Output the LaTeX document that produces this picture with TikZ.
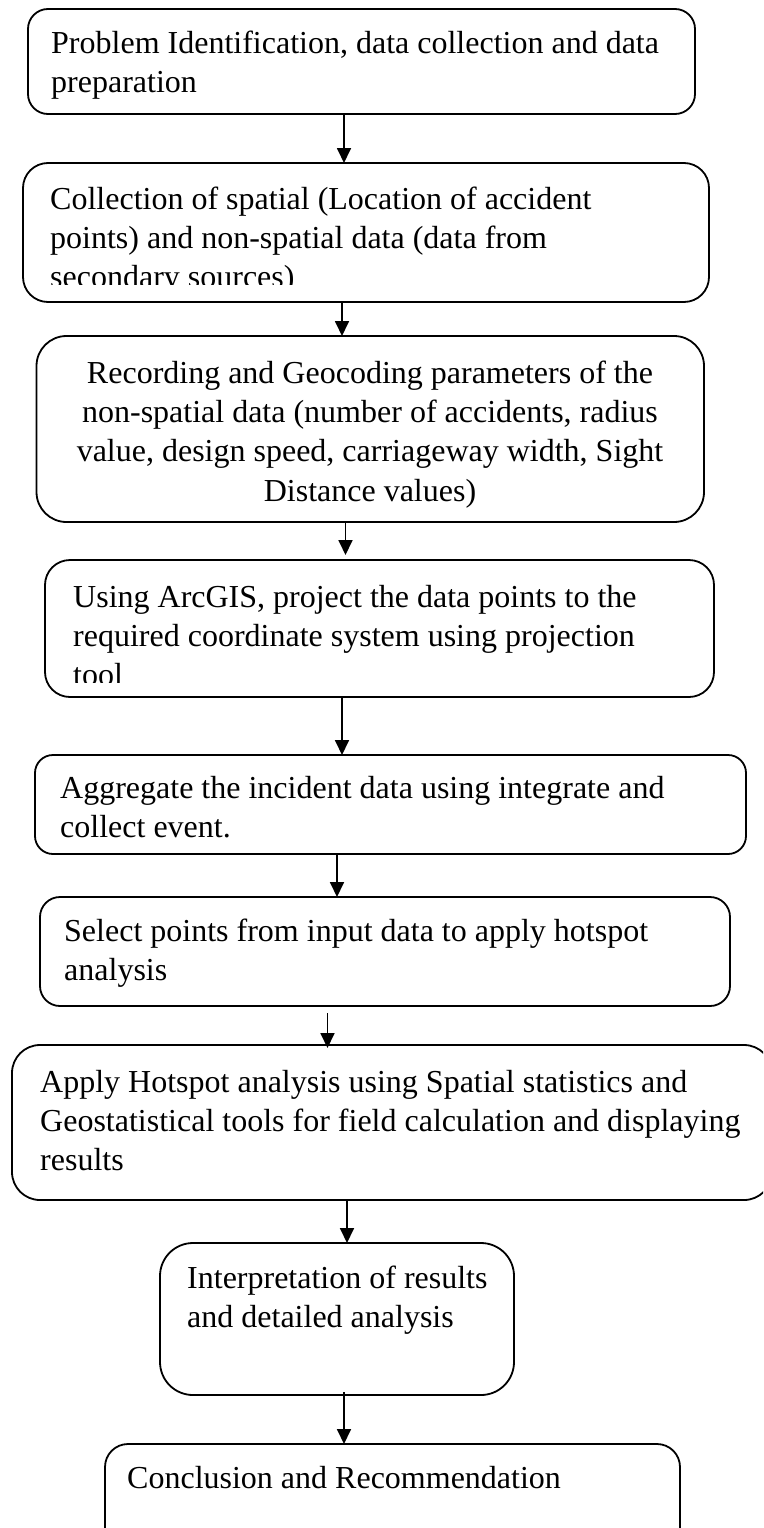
\documentclass[tikz,border=0pt]{standalone}
\usepackage{fontspec}
\setmainfont{Liberation Serif}
\usetikzlibrary{arrows.meta}
\tikzset{
  box/.style={draw, line width=1.8pt, rounded corners=#1, inner sep=0pt, outer sep=0pt},
  box/.default=20pt,
  txt/.style={inner sep=0pt, anchor=north west, align=left, font=\fontsize{32}{39.3}\selectfont},
  ctxt/.style={inner sep=0pt, anchor=north, align=center, font=\fontsize{32}{39.3}\selectfont},
  arr/.style={-{Triangle[length=15pt,width=14pt]}, line width=1.8pt},
}
\begin{document}
\begin{tikzpicture}[x=1pt,y=-1pt]
\useasboundingbox (0,0) rectangle (763,1528);
\clip (0,0) rectangle (763,1528);
% boxes
\node[box=20pt, minimum width=667pt, minimum height=105pt] (b1) at (361.5,61.5) {};
\node[box=25pt, minimum width=686pt, minimum height=139pt] (b2) at (366,232.5) {};
\node[box=30pt, minimum width=667.5pt, minimum height=186pt] (b3) at (370.25,429) {};
\node[box=25pt, minimum width=669pt, minimum height=137pt] (b4) at (379.5,628.5) {};
\node[box=18pt, minimum width=711pt, minimum height=99pt] (b5) at (390.5,804.5) {};
\node[box=20pt, minimum width=690pt, minimum height=109pt] (b6) at (385,951.5) {};
\node[box=28pt, minimum width=760pt, minimum height=155pt] (b7) at (392,1122.5) {};
\node[box=33pt, minimum width=354pt, minimum height=152pt] (b8) at (337,1319) {};
\node[box=23pt, minimum width=575pt, minimum height=116pt] (b9) at (392.5,1502) {};
% texts
\node[txt] (t1) at (51,25.5) {\strut Problem Identification, data collection and data\\preparation};
\begin{scope}
\clip (0,163) rectangle (763,284.5);
\node[txt] (t2) at (50,181.5) {\strut Collection of spatial (Location of accident\\points) and non-spatial data (data from\\secondary sources)};
\end{scope}
\node[ctxt] (t3) at (370,355.5) {\strut Recording and Geocoding parameters of the\\non-spatial data (number of accidents, radius\\value, design speed, carriageway width, Sight\\Distance values)};
\begin{scope}
\clip (0,560) rectangle (763,682);
\node[txt] (t4) at (73,579.5) {\strut Using ArcGIS, project the data points to the\\required coordinate system using projection\\tool};
\end{scope}
\node[txt] (t5) at (60,770.5) {\strut Aggregate the incident data using integrate and\\collect event.};
\node[txt] (t6) at (64,913.5) {\strut Select points from input data to apply hotspot\\analysis};
\node[txt] (t7) at (40,1064.5) {\strut Apply Hotspot analysis using Spatial statistics and\\Geostatistical tools for field calculation and displaying\\results};
\node[txt] (t8) at (187,1260.5) {\strut Interpretation of results\\and detailed analysis};
\node[txt] (t9) at (127,1460.5) {\strut Conclusion and Recommendation};
% arrow x positions
\coordinate (x1) at (344,0);
\coordinate (x2) at (342,0);
\coordinate (x3) at (345.5,0);
\coordinate (x4) at (342,0);
\coordinate (x5) at (337,0);
\coordinate (x6) at (327.5,0);
\coordinate (x7) at (347,0);
\coordinate (x8) at (344,0);
\draw[arr] (b1.south -| x1) -- (b2.north -| x1);
\draw[arr] (b2.south -| x2) -- (b3.north -| x2);
\draw[arr, shorten >=5pt] (b3.south -| x3) -- (b4.north -| x3);
\draw[arr] (b4.south -| x4) -- (b5.north -| x4);
\draw[arr] (b5.south -| x5) -- (b6.north -| x5);
\draw[arr, shorten <=7pt, shorten >=-3pt] (b6.south -| x6) -- (b7.north -| x6);
\draw[arr] (b7.south -| x7) -- (b8.north -| x7);
\draw[arr, shorten <=-3pt] (b8.south -| x8) -- (b9.north -| x8);
\end{tikzpicture}
\end{document}
